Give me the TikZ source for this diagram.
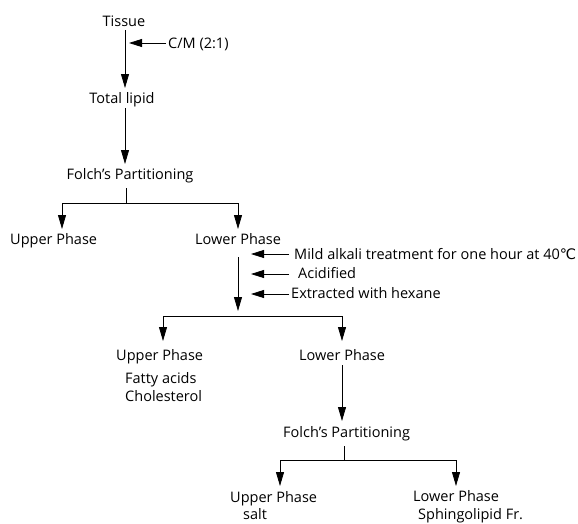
\documentclass[tikz,border=0pt]{standalone}
\usepackage{fontspec}
\setmainfont{Open Sans}
\newfontfamily\dejavu{DejaVu Sans}
\usetikzlibrary{arrows.meta}
\newcommand{\apos}{{\char"27}}
\begin{document}
\begin{tikzpicture}[x=1pt,y=-1pt,
  lbl/.style={inner sep=0pt,font=\fontsize{14.5}{17}\selectfont},
  line/.style={line width=0.8pt},
  arr/.style={line width=0.8pt,-{Triangle[length=14pt,width=8pt]}},
  sidearr/.style={line width=0.8pt,-{Triangle[length=13pt,width=8pt]}}]
\useasboundingbox (0,0) rectangle (578,523);
% labels
\node[lbl,anchor=base] (tissue) at (124,26) {Tissue};
\node[lbl,anchor=base west] (cm) at (168,48) {C/M (2:1)};
\node[lbl,anchor=base] (total) at (122,103) {Total lipid};
\node[lbl,anchor=base] (folch1) at (130,179) {Folch\apos s Partitioning};
\node[lbl,anchor=base west] (up1) at (10,244) {Upper Phase};
\node[lbl,anchor=base west] (low1) at (195,244) {Lower Phase};
\node[lbl,anchor=base west] (mild) at (294,259) {Mild alkali treatment for one hour at 40{\dejavu ℃}};
\node[lbl,anchor=base west] (acid) at (298,278) {Acidified};
\node[lbl,anchor=base west] (hex) at (291,298) {Extracted with hexane};
\node[lbl,anchor=base west] (up2) at (116,360) {Upper Phase};
\node[lbl,anchor=base west] (fa) at (125,383) {Fatty acids};
\node[lbl,anchor=base west] (chol) at (125,401) {Cholesterol};
\node[lbl,anchor=base west] (low2) at (299,360) {Lower Phase};
\node[lbl,anchor=base west] (folch2) at (283,437) {Folch\apos s Partitioning};
\node[lbl,anchor=base west] (up3) at (230,502) {Upper Phase};
\node[lbl,anchor=base west] (salt) at (243,519) {salt};
\node[lbl,anchor=base west] (low3) at (413,501) {Lower Phase};
\node[lbl,anchor=base west] (sph) at (418,519) {Sphingolipid Fr.};
% coordinates
\coordinate (t0) at (125,30);  \coordinate (t1) at (125,88);
\coordinate (c0) at (166,43);  \coordinate (c1) at (129,43);
\coordinate (l0) at (125,108); \coordinate (l1) at (125,164);
\coordinate (f0) at (126,188); \coordinate (f1) at (126,203);
\coordinate (fl) at (62,203);  \coordinate (fr) at (238,203);
\coordinate (ul) at (62,229);  \coordinate (ur) at (238,229);
\coordinate (m0) at (289,254); \coordinate (m1) at (251,254);
\coordinate (a0) at (289,274); \coordinate (a1) at (251,274);
\coordinate (h0) at (289,294); \coordinate (h1) at (251,294);
\coordinate (v0) at (238,257); \coordinate (v1) at (238,311);
\coordinate (gl) at (163,316); \coordinate (gr) at (342,316);
\coordinate (gl1) at (163,341); \coordinate (gr1) at (342,341);
\coordinate (d0) at (342,365); \coordinate (d1) at (342,421);
\coordinate (p0) at (344,446); \coordinate (p1) at (344,460);
\coordinate (pl) at (280,460); \coordinate (pr) at (456,460);
\coordinate (pl1) at (280,486); \coordinate (pr1) at (456,486);
% connectors
\draw[arr] (t0) -- (t1);
\draw[sidearr] (c0) -- (c1);
\draw[arr] (l0) -- (l1);
\draw[line] (f0) -- (f1);
\draw[arr] (f1) -- (fl) -- (ul);
\draw[arr] (f1) -- (fr) -- (ur);
\draw[sidearr] (m0) -- (m1);
\draw[sidearr] (a0) -- (a1);
\draw[sidearr] (h0) -- (h1);
\draw[arr] (v0) -- (v1);
\draw[line] (gl) -- (gr);
\draw[arr] (gl) -- (gl1);
\draw[arr] (gr) -- (gr1);
\draw[arr] (d0) -- (d1);
\draw[line] (p0) -- (p1);
\draw[arr] (p1) -- (pl) -- (pl1);
\draw[arr] (p1) -- (pr) -- (pr1);
\end{tikzpicture}
\end{document}
